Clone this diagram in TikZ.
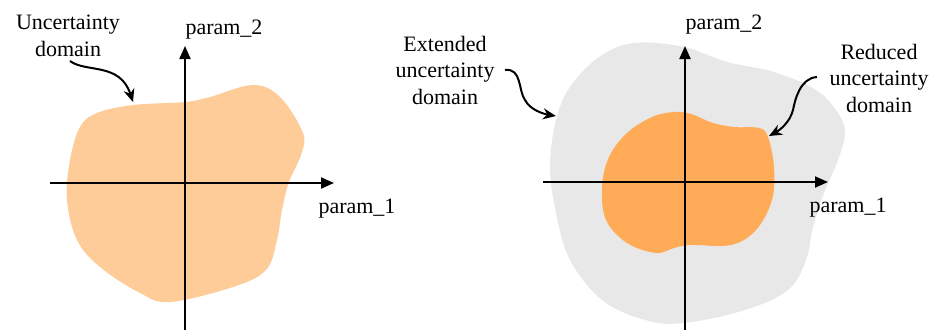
\documentclass[tikz,border=0pt]{standalone}
\usepackage{fontspec}
\setmainfont{Liberation Serif}
\usetikzlibrary{arrows.meta,positioning}

\definecolor{peach}{RGB}{254,204,153}
\definecolor{deeporange}{RGB}{255,171,87}
\definecolor{lightgrey}{RGB}{232,232,232}

\begin{document}
\begin{tikzpicture}[x=1pt, y=-1pt,
  axis/.style = {line width=2pt, -{Triangle[length=13pt,width=11pt]}},
  pointer/.style = {line width=2pt, -{Stealth[length=13pt,width=11pt]}},
  lbl/.style = {font=\fontsize{22}{26.5}\selectfont, align=center, inner sep=0pt}]
\useasboundingbox (0,0) rectangle (930,330);

% left: uncertainty domain
\fill [peach] plot [smooth cycle, tension=0.6] coordinates {
  (133,105) (185,102) (210,97) (253,85) (280,97) (303,133) (301,155)
  (289,182) (282,210) (277,240) (266,270) (233,287) (170,302) (140,293)
  (100,267) (77,240) (67,200) (70,160) (80,127) (97,113)};
\coordinate (ud_pt) at (133,102);

% right: extended and reduced domains
\fill [lightgrey] plot [smooth cycle, tension=0.6] coordinates {
  (634,43) (684,47) (727,62) (774,72) (816,90) (838,113) (845,133)
  (838,160) (824,193) (813,227) (806,260) (788,290) (745,310) (684,323)
  (645,320) (602,300) (570,260) (556,213) (550,167) (556,120) (570,87)
  (599,57)};
\fill [deeporange] plot [smooth cycle, tension=0.6] coordinates {
  (674,112) (691,114) (713,123) (734,127) (759,128) (768,137) (774,167)
  (772,200) (756,230) (731,245) (691,245) (674,248) (656,253) (627,243)
  (606,220) (602,187) (609,157) (627,133) (652,117)};
\coordinate (ext_pt) at (556,116);
\coordinate (red_pt) at (769,136);

% axes
\coordinate (o1) at (185,183);
\coordinate (o2) at (685,182);
\draw [axis] (o1 |- 0,330) -- (o1 |- 0,46);
\draw [axis] (50,183) -- (334,183);
\draw [axis] (o2 |- 0,330) -- (o2 |- 0,46);
\draw [axis] (543,182) -- (828,182);

% labels
\node [lbl] (p2_left) at (224,30) {param\_2};
\node [lbl] (p1_left) at (357,209) {param\_1};
\node [lbl] (p2_right) at (724,25) {param\_2};
\node [lbl] (p1_right) at (848,208) {param\_1};
\node [lbl] (ud) at (68,36) {Uncertainty\\domain};
\node [lbl] (ext) at (445,70) {Extended\\uncertainty\\domain};
\node [lbl] (red) at (879,78) {Reduced\\uncertainty\\domain};

% pointers
\draw [pointer] (70,61) .. controls (86,73) and (120,62) .. (ud_pt);
\draw [pointer] (505,70) .. controls (522,68) and (518,90) .. (525,100)
  .. controls (530,110) and (544,114) .. (ext_pt);
\draw [pointer] (817,77) .. controls (800,78) and (795,100) .. (793,110)
  .. controls (790,122) and (780,130) .. (red_pt);
\end{tikzpicture}
\end{document}
